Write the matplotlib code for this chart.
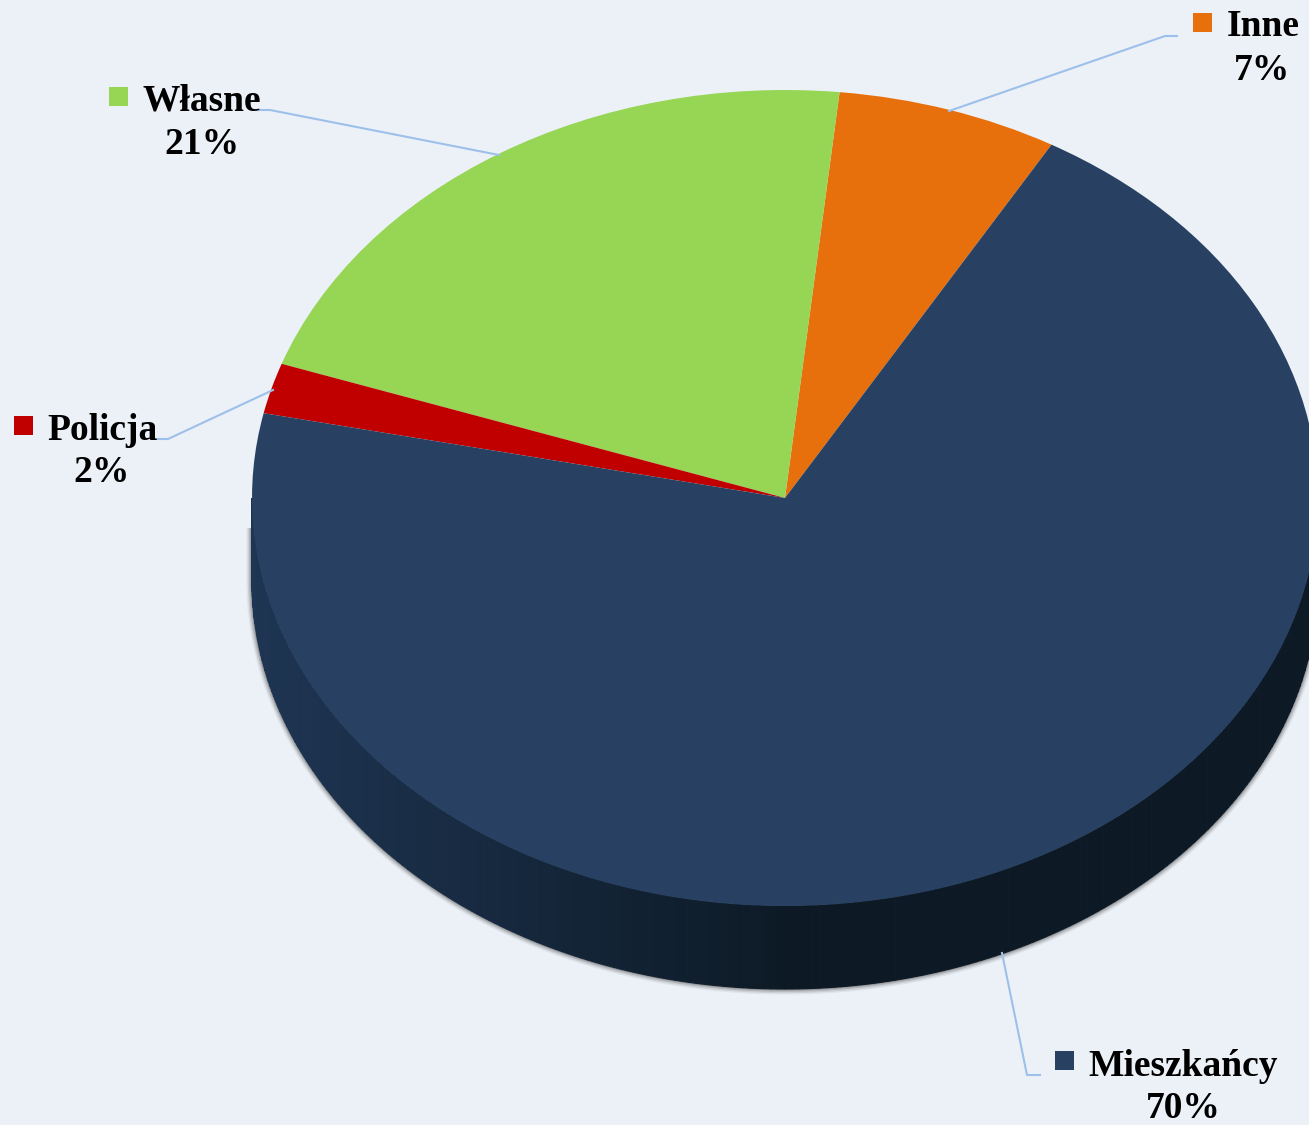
import numpy as np
import matplotlib.pyplot as plt
from matplotlib.colors import to_rgb

labels = ['Inne', 'Własne', 'Policja', 'Mieszkańcy']
values = [6.7, 21.3, 2, 70]
pct_txt = ['7%', '21%', '2%', '70%']
colors = ['#e8700c', '#97d555', '#c00000', '#284162']

W, H = 1309, 1125
cx, cy = 785, 498      # pie centre in picture pixels
rx, ry = 533, 408
depth = 83
bg = '#ecf1f8'
line_c = '#9dc0ea'

plt.rcParams['font.family'] = ['Liberation Serif', 'DejaVu Serif']

fig = plt.figure(figsize=(W / 100, H / 100), dpi=100, facecolor=bg)

# pie axes: stretched so the unit circle becomes the flat ellipse
ax = fig.add_axes([0, 0, 1, 1])
wedges, _ = ax.pie(values, colors=colors, startangle=60, radius=1, wedgeprops={'linewidth': 0})
for wd in wedges:
    wd.set_zorder(5)
ax.set_aspect('auto')
ax.set_xlim(-cx / rx, (W - cx) / rx)
ax.set_ylim((cy - H) / ry, cy / ry)
ax.axis('off')

# soft shadow round the side wall, starts a bit above the wall's left end
off = depth / ry
edge_t = np.radians(np.linspace(180, 360, 300))
shadow_x = np.r_[-1, np.cos(edge_t)]
shadow_y = np.r_[-30 / ry, np.sin(edge_t) - off]
for w, a in zip([8, 6, 4, 2], [0.08, 0.12, 0.2, 0.3]):
    ax.plot(shadow_x, shadow_y, color='#444444', lw=w, alpha=a, zorder=1, solid_capstyle='butt')

# side wall, dark gradient going left to right
left_c = np.array(to_rgb('#1e3553'))
right_c = np.array(to_rgb('#0d1a26'))
steps = 240
edges = np.linspace(180, 360, steps + 1)
for i in range(steps):
    t = np.radians(np.linspace(edges[i], edges[i + 1], 6))
    x = np.cos(t)
    k = min(1, ((x.mean() + 1) / 2) / 0.5)
    c = left_c + (right_c - left_c) * k
    xs = np.r_[x, x[::-1]]
    ys = np.r_[np.sin(t), np.sin(t)[::-1] - off]
    ax.fill(xs, ys, color=c, lw=0.8, zorder=2)

# overlay in picture pixels for leaders and labels
ov = fig.add_axes([0, 0, 1, 1])
ov.set_xlim(0, W)
ov.set_ylim(H, 0)
ov.axis('off')
ov.patch.set_alpha(0)

leaders = [
    ([949, 1165, 1177], [111, 36, 36]),
    ([257, 270, 499], [110, 110, 155]),
    ([273, 168, 157], [390, 439, 439]),
    ([1002, 1027, 1040], [953, 1075, 1075]),
]
for xs, ys in leaders:
    ov.plot(xs, ys, color=line_c, lw=1.5, zorder=6, solid_joinstyle='round')

squares = [(1193, 13), (109, 87), (14, 416), (1055, 1051)]
name_xy = [(1263, 27), (202, 101), (102, 431), (1183, 1067)]
pct_xy = [(1262, 70), (202, 145), (102, 473), (1183, 1108)]

for i in range(4):
    sx, sy = squares[i]
    ov.fill([sx, sx + 19, sx + 19, sx], [sy, sy, sy + 19, sy + 19], color=colors[i], lw=0, zorder=7)
    ov.text(name_xy[i][0], name_xy[i][1], labels[i], fontsize=27, fontweight='bold', color='black',
            ha='center', va='center', zorder=8)
    ov.text(pct_xy[i][0], pct_xy[i][1], pct_txt[i], fontsize=27, fontweight='bold', color='black',
            ha='center', va='center', zorder=8)

fig.savefig('out.png', dpi=100, facecolor=bg)
